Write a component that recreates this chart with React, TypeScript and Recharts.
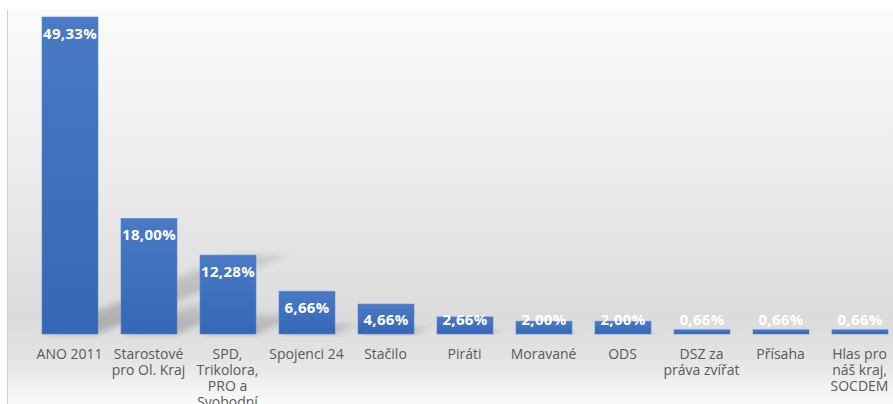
import React from 'react';
import { BarChart, Bar, XAxis, YAxis, LabelList } from 'recharts';

// strany a výsledky
const parties = [
  'ANO 2011',
  'Starostové pro Ol. Kraj',
  'SPD, Trikolora, PRO a Svobodní',
  'Spojenci 24',
  'Stačilo',
  'Piráti',
  'Moravané',
  'ODS',
  'DSZ za práva zvířat',
  'Přísaha',
  'Hlas pro náš kraj, SOCDEM',
];
const shares = [49.33, 18.0, 12.28, 6.66, 4.66, 2.66, 2.0, 2.0, 0.66, 0.66, 0.66];
// zalomení popisků osy x
const tickLines = [
  ['ANO 2011'],
  ['Starostové', 'pro Ol. Kraj'],
  ['SPD,', 'Trikolora,', 'PRO a', 'Svobodní'],
  ['Spojenci 24'],
  ['Stačilo'],
  ['Piráti'],
  ['Moravané'],
  ['ODS'],
  ['DSZ za', 'práva zvířat'],
  ['Přísaha'],
  ['Hlas pro', 'náš kraj,', 'SOCDEM'],
];

const data = parties.map((name, i) => ({ name, value: shares[i] }));

const FONT = '"Open Sans", sans-serif';

const formatPct = (v: number) => v.toFixed(2).replace('.', ',') + '%';

const PartyTick = (props: any) => {
  const { x, y, payload } = props;
  const lines = tickLines[payload.index] || [payload.value];
  return (
    <g transform={`translate(${x},${y})`}>
      {lines.map((line, i) => (
        <text
          key={i}
          x={0}
          y={17 + i * 16}
          textAnchor="middle"
          fill="#595959"
          fontSize={14}
          fontFamily={FONT}
        >
          {line}
        </text>
      ))}
    </g>
  );
};

// sloupec s perspektivním stínem (jako v Excelu)
const ShadowBar = (props: any) => {
  const { x, y, width, height } = props;
  const base = y + height;
  const dx = height * 0.6;
  const dy = height * 0.25;
  const pts = [
    [x, base],
    [x + width, base],
    [x + width + dx, base - dy],
    [x + dx, base - dy],
  ]
    .map((p) => p.join(','))
    .join(' ');
  return (
    <g>
      <polygon points={pts} fill="url(#shadowFill)" filter="url(#shadowBlur)" />
      <rect x={x} y={y} width={width} height={height} fill="url(#barFill)" stroke="#5b87cc" strokeWidth={0.6} />
    </g>
  );
};

const ValueLabel = (props: any) => {
  const { x, y, width, value } = props;
  // krátké sloupce: popisek zůstává nad základnou
  const baseline = Math.min(y + 22, 325);
  return (
    <text
      x={x + width / 2}
      y={baseline}
      textAnchor="middle"
      fill="#ffffff"
      fontSize={15}
      fontWeight={700}
      letterSpacing={0.3}
      fontFamily={FONT}
    >
      {formatPct(value)}
    </text>
  );
};

export default function App() {
  return (
    <div style={{ position: 'absolute', left: 0, top: 0, width: 893, height: 404, overflow: 'hidden', background: '#fff' }}>
      <div
        style={{
          position: 'absolute',
          left: 7,
          top: 10,
          right: 0,
          bottom: 0,
          borderLeft: '1px solid #d0d0d0',
          background:
            'linear-gradient(to bottom, #fbfbfa 0%, #f2f2f2 25%, #e6e6e6 55%, #dbdbdb 78%, #e3e3e3 88%, #fafafa 100%)',
        }}
      />
      <div style={{ position: 'absolute', left: 0, top: 0 }}>
        <BarChart
          width={900}
          height={404}
          data={data}
          margin={{ top: 17, right: 1, bottom: 0, left: 30 }}
          barSize={56}
        >
          <defs>
            <linearGradient id="barFill" x1="0" y1="0" x2="0" y2="1">
              <stop offset="0%" stopColor="#4a7ac6" />
              <stop offset="100%" stopColor="#3467b6" />
            </linearGradient>
            <linearGradient id="shadowFill" x1="0" y1="1" x2="0" y2="0">
              <stop offset="0%" stopColor="#000" stopOpacity={0.22} />
              <stop offset="100%" stopColor="#000" stopOpacity={0.1} />
            </linearGradient>
            <filter id="shadowBlur" x="-20%" y="-20%" width="140%" height="140%">
              <feGaussianBlur stdDeviation="3" />
            </filter>
          </defs>
          <XAxis
            dataKey="name"
            height={70}
            axisLine={false}
            tickLine={false}
            interval={0}
            tick={<PartyTick />}
          />
          <YAxis hide domain={[0, 49.33]} />
          <Bar dataKey="value" shape={<ShadowBar />} isAnimationActive={false}>
            <LabelList dataKey="value" content={<ValueLabel />} />
          </Bar>
        </BarChart>
      </div>
    </div>
  );
}
